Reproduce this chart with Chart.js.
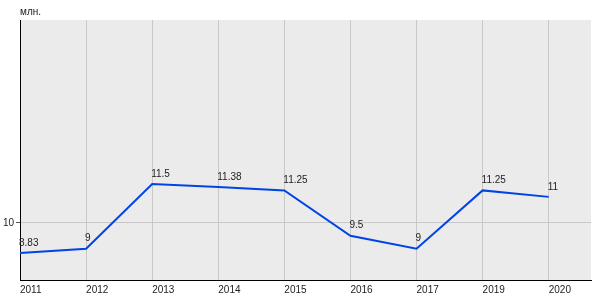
<!DOCTYPE html>
<html>
<head>
<meta charset="utf-8">
<script src="https://cdn.jsdelivr.net/npm/chart.js@4/dist/chart.umd.min.js"></script>
<style>
  html, body { margin: 0; padding: 0; background: #fff; }
  #wrap { width: 600px; height: 300px; }
</style>
</head>
<body>
<div id="wrap"><canvas id="canvas"></canvas></div>
<script>
const years = ['2011', '2012', '2013', '2014', '2015', '2016', '2017', '2019', '2020'];
const values = [8.83, 9, 11.5, 11.38, 11.25, 9.5, 9, 11.25, 11];
const yTicks = [10];
const unitLabel = 'млн.';

const FONT = '"Liberation Sans", Arial, sans-serif';
const ctx = document.getElementById('canvas');

const points = values.map(function(v, i) {
  return { x: i, y: v };
});

// grey plot background
const plotBg = {
  id: 'plotBg',
  beforeDraw: function(chart) {
    const a = chart.chartArea;
    const c = chart.ctx;
    c.save();
    c.fillStyle = '#ebebeb';
    c.fillRect(a.left, a.top, a.right - a.left, a.bottom - a.top);
    c.restore();
  }
};

// value labels above each point + unit text
const valueLabels = {
  id: 'valueLabels',
  afterDatasetsDraw: function(chart) {
    const c = chart.ctx;
    const meta = chart.getDatasetMeta(0);
    c.save();
    c.font = '10px ' + FONT;
    c.fillStyle = '#222';
    c.textAlign = 'left';
    c.textBaseline = 'middle';
    meta.data.forEach(function(pt, i) {
      c.fillText(String(values[i]), pt.x - 1, pt.y - 10);
    });
    c.fillText(unitLabel, chart.chartArea.left, 12);
    c.restore();
  }
};

const config = {
  type: 'line',
  data: {
    datasets: [
      {
        data: points,
        borderColor: '#0044e6',
        borderWidth: 2,
        pointRadius: 0,
        fill: false,
        tension: 0
      }
    ]
  },
  options: {
    responsive: true,
    maintainAspectRatio: false,
    animation: false,
    layout: {
      padding: { top: 20, right: 9, left: 0, bottom: 0 }
    },
    plugins: {
      legend: { display: false },
      tooltip: { enabled: false }
    },
    scales: {
      x: {
        type: 'linear',
        min: 0,
        max: 8.64,
        afterBuildTicks: function(scale) {
          scale.ticks = years.map(function(y, i) { return { value: i }; });
        },
        afterFit: function(scale) {
          scale.height = 20;
        },
        grid: {
          color: '#c8c8c8',
          drawTicks: false
        },
        border: { color: '#000', width: 1 },
        ticks: {
          align: 'start',
          padding: 4,
          maxRotation: 0,
          autoSkip: false,
          color: '#222',
          font: { family: FONT, size: 10 },
          callback: function(val) {
            return years[val];
          }
        }
      },
      y: {
        min: 7.79,
        max: 17.83,
        afterBuildTicks: function(scale) {
          scale.ticks = yTicks.map(function(v) { return { value: v }; });
        },
        afterFit: function(scale) {
          scale.width = 20;
        },
        grid: {
          color: '#c8c8c8',
          tickColor: '#555',
          tickLength: 4
        },
        border: { color: '#000', width: 1 },
        ticks: {
          padding: 2,
          color: '#222',
          font: { family: FONT, size: 10 }
        }
      }
    }
  },
  plugins: [plotBg, valueLabels]
};

new Chart(ctx, config);
</script>
</body>
</html>
